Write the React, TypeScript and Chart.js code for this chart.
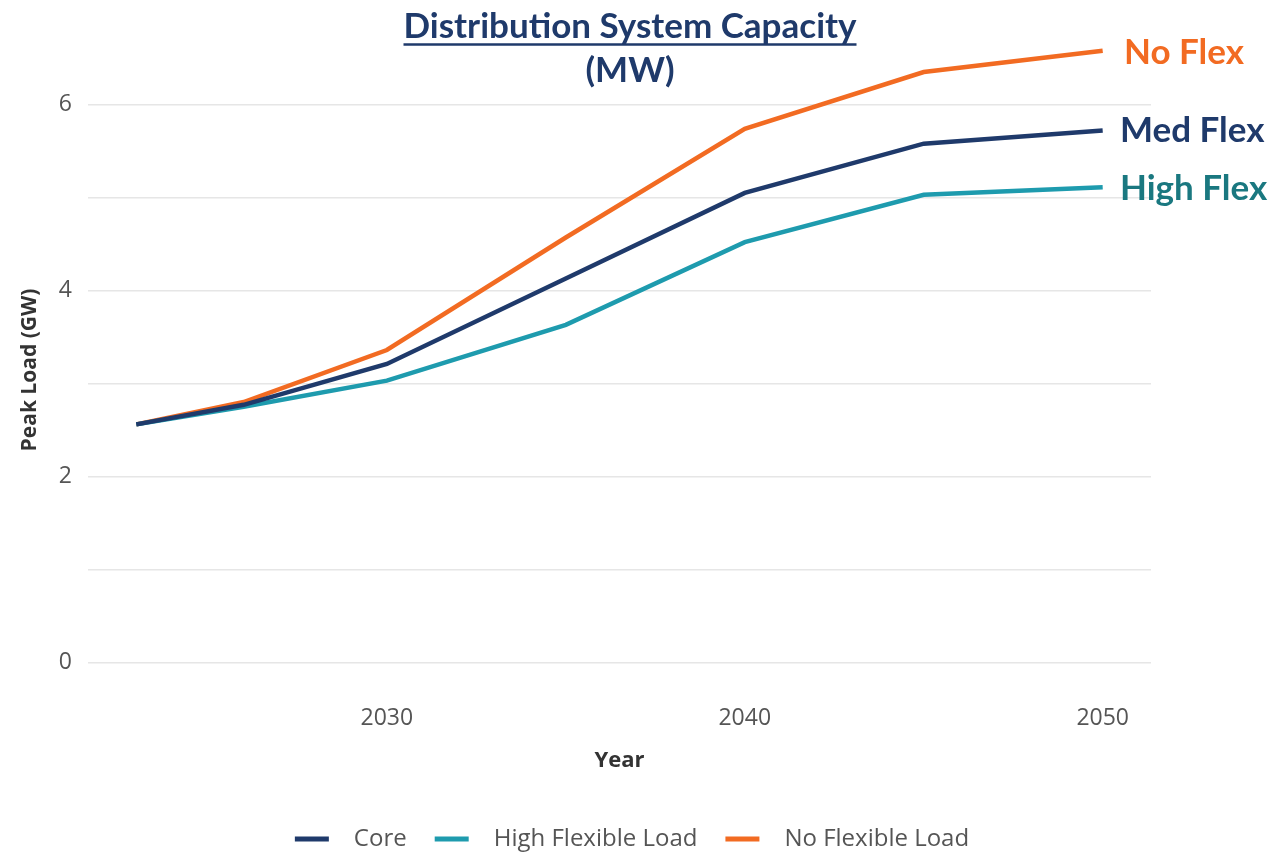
import React, { useEffect, useRef } from "react";
import { Chart, registerables } from "chart.js";

Chart.register(...registerables);

const years = [2023, 2026, 2030, 2035, 2040, 2045, 2050];
const coreValues = [2.56, 2.77, 3.21, 4.13, 5.05, 5.58, 5.72];
const highFlexValues = [2.56, 2.75, 3.03, 3.63, 4.52, 5.03, 5.11];
const noFlexValues = [2.56, 2.8, 3.36, 4.57, 5.74, 6.35, 6.58];
const seriesNames = ["Core", "High Flexible Load", "No Flexible Load"];
const xTickValues = [2030, 2040, 2050];
const yGridValues = [0, 1, 2, 3, 4, 5, 6];
const endLabels = ["Med Flex", "High Flex", "No Flex"];
const titleLines = ["Distribution System Capacity", "(MW)"];

const NAVY = "#1F3A6B";
const TEAL = "#1E9BAE";
const ORANGE = "#F26B22";
const TEAL_TEXT = "#1A7880";
const FONT = "'Open Sans', 'Noto Sans', sans-serif";
const TITLE_FONT = "Lato, 'Open Sans', sans-serif";

const overlay = {
  id: "overlay",
  afterDraw(chart: any) {
    const ctx = chart.ctx as CanvasRenderingContext2D;
    const area = chart.chartArea;
    ctx.save();
    // Title
    ctx.fillStyle = NAVY;
    ctx.textAlign = "center";
    ctx.textBaseline = "alphabetic";
    ctx.font = `bold 35px ${TITLE_FONT}`;
    const cx = 630;
    ctx.fillText(titleLines[0], cx, 38);
    const w = ctx.measureText(titleLines[0]).width;
    ctx.strokeStyle = NAVY;
    ctx.lineWidth = 2.5;
    ctx.beginPath();
    ctx.moveTo(cx - w / 2, 44.5);
    ctx.lineTo(cx + w / 2, 44.5);
    ctx.stroke();
    ctx.fillText(titleLines[1], cx, 82);

    // End labels
    ctx.textAlign = "left";
    ctx.textBaseline = "middle";
    ctx.font = `bold 35px ${TITLE_FONT}`;
    ctx.fillStyle = ORANGE;
    ctx.fillText(endLabels[2], 1124, 53);
    ctx.fillStyle = NAVY;
    ctx.fillText(endLabels[0], 1120, 131);
    ctx.fillStyle = TEAL_TEXT;
    ctx.fillText(endLabels[1], 1120, 189);

    // Axis titles
    ctx.fillStyle = "#333333";
    ctx.font = `bold 22px ${FONT}`;
    ctx.textAlign = "center";
    ctx.fillText("Year", (area.left + area.right) / 2, 761);
    ctx.font = `bold 21px ${FONT}`;
    ctx.save();
    ctx.translate(30, 370);
    ctx.rotate(-Math.PI / 2);
    ctx.fillText("Peak Load (GW)", 0, 0);
    ctx.restore();

    // Legend
    const colors = [NAVY, TEAL, ORANGE];
    ctx.font = `24px ${FONT}`;
    const lineW = 34;
    const gapText = 25;
    const gapItem = 28;
    const widths = seriesNames.map((n) => ctx.measureText(n).width);
    const total = widths.reduce((s, v) => s + v + lineW + gapText, 0) + gapItem * (seriesNames.length - 1);
    let x = 632 - total / 2;
    const ly = 839;
    ctx.textAlign = "left";
    ctx.textBaseline = "middle";
    seriesNames.forEach((n, i) => {
      ctx.strokeStyle = colors[i];
      ctx.lineWidth = 5;
      ctx.beginPath();
      ctx.moveTo(x, ly);
      ctx.lineTo(x + lineW, ly);
      ctx.stroke();
      x += lineW + gapText;
      ctx.fillStyle = "#555555";
      ctx.fillText(n, x, ly);
      x += widths[i] + gapItem;
    });
    ctx.restore();
  },
};

export default function App() {
  const ref = useRef<HTMLCanvasElement>(null);
  useEffect(() => {
    document.body.style.margin = "0";
    const mk = (vals: number[]) => years.map((y, i) => ({ x: y, y: vals[i] }));
    const chart = new Chart(ref.current!, {
      type: "line",
      data: {
        datasets: [
          { label: seriesNames[0], data: mk(coreValues), borderColor: NAVY, backgroundColor: NAVY, borderWidth: 4.5, pointRadius: 0, tension: 0 },
          { label: seriesNames[1], data: mk(highFlexValues), borderColor: TEAL, backgroundColor: TEAL, borderWidth: 4.5, pointRadius: 0, tension: 0 },
          { label: seriesNames[2], data: mk(noFlexValues), borderColor: ORANGE, backgroundColor: ORANGE, borderWidth: 4.5, pointRadius: 0, tension: 0 },
        ],
      },
      options: {
        animation: false,
        responsive: false,
        devicePixelRatio: 1,
        layout: { padding: { left: 0, right: 1287 - 1151, top: 20, bottom: 0 } },
        plugins: { legend: { display: false }, tooltip: { enabled: false }, title: { display: false } },
        scales: {
          x: {
            type: "linear",
            min: 2021.65,
            max: 2051.35,
            grid: { display: false, drawTicks: false },
            border: { display: false },
            afterBuildTicks: (s: any) => {
              s.ticks = xTickValues.map((v) => ({ value: v }));
            },
            afterFit: (s: any) => {
              s.height = 853 - 693;
              s.paddingLeft = 0;
              s.paddingRight = 0;
            },
            ticks: {
              padding: 12,
              color: "#555555",
              font: { family: FONT, size: 23 },
              callback: (v: any) => String(v),
              maxRotation: 0,
              autoSkip: false,
            },
          },
          y: {
            min: -0.33,
            max: 6.91,
            grid: { color: "#E6E6E6", lineWidth: 1.5, drawTicks: false },
            border: { display: false },
            afterBuildTicks: (s: any) => {
              s.ticks = yGridValues.map((v) => ({ value: v }));
            },
            afterFit: (s: any) => {
              s.width = 88;
              s.paddingTop = 0;
              s.paddingBottom = 0;
            },
            ticks: {
              padding: 16,
              color: "#555555",
              font: { family: FONT, size: 23 },
              callback: (v: any) => (Number(v) % 2 === 0 ? String(v) : ""),
              autoSkip: false,
            },
          },
        },
      },
      plugins: [overlay],
    });
    return () => chart.destroy();
  }, []);
  return (
    <div style={{ width: 1287, height: 853, background: "#fff" }}>
      <canvas ref={ref} width={1287} height={853} style={{ display: "block" }} />
    </div>
  );
}
